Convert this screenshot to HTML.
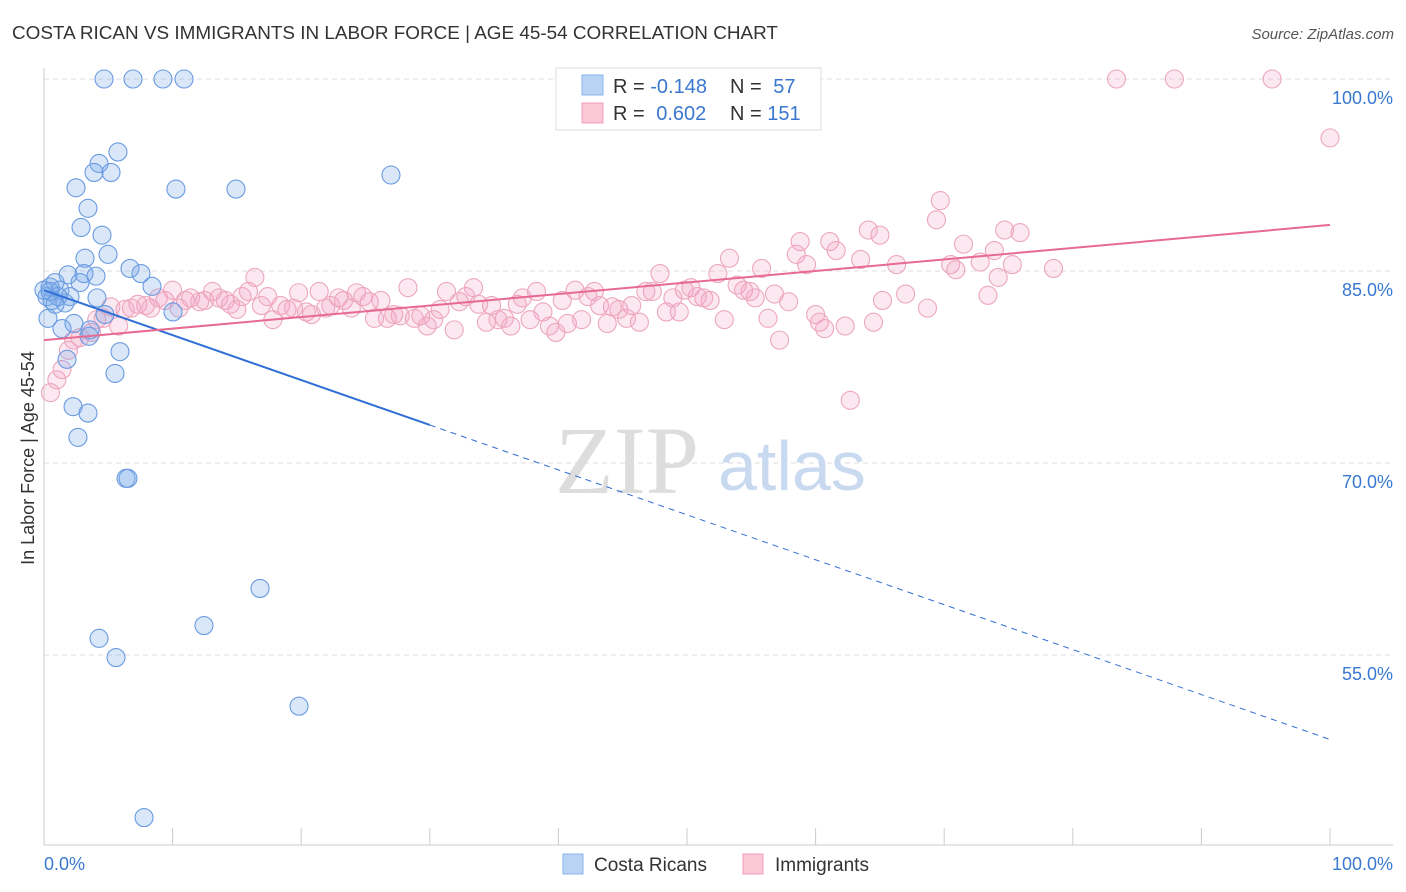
<!DOCTYPE html>
<html><head><meta charset="utf-8"><style>
body{margin:0;background:#fff;font-family:"Liberation Sans",sans-serif}
svg{display:block}
</style></head><body>
<svg width="1406" height="892" viewBox="0 0 1406 892">
<text x="12" y="39" font-size="18.9" fill="#333">COSTA RICAN VS IMMIGRANTS IN LABOR FORCE | AGE 45-54 CORRELATION CHART</text>
<text x="1394" y="39" font-size="15" fill="#555" font-style="italic" text-anchor="end">Source: ZipAtlas.com</text>
<g id="grid"></g>
<g id="axes"></g>
<text x="555" y="493" font-size="96" fill="#ddd" font-family="Liberation Serif,serif">ZIP</text>
<text x="718" y="490" font-size="70" fill="#c9daf0">atlas</text>
<g id="pink"></g>
<g id="blue"></g>
<g id="trends"></g>
<text x="34" y="458" font-size="18" fill="#333" text-anchor="middle" transform="rotate(-90 34 458)">In Labor Force | Age 45-54</text>
<g>
<rect x="556" y="68" width="265" height="62" fill="#fff" stroke="#ddd"/>
<rect x="582" y="75" width="21" height="20" fill="#b9d3f5" stroke="#8ab4ea"/>
<rect x="582" y="103" width="21" height="20" fill="#fbc6d6" stroke="#f0a0ba"/>
<text x="613" y="93" font-size="20" fill="#333">R = <tspan fill="#3a78d0">-0.148</tspan></text>
<text x="730" y="93" font-size="20" fill="#333">N = <tspan fill="#3a78d0" dx="6">57</tspan></text>
<text x="613" y="120" font-size="20" fill="#333">R = <tspan fill="#3a78d0" dx="6">0.602</tspan></text>
<text x="730" y="120" font-size="20" fill="#333">N = <tspan fill="#3a78d0">151</tspan></text>
</g>
<g>
<rect x="563" y="854" width="20" height="20" fill="#b9d3f5" stroke="#8ab4ea"/>
<text x="594" y="871" font-size="19" fill="#333">Costa Ricans</text>
<rect x="743" y="854" width="20" height="20" fill="#fbc6d6" stroke="#f0a0ba"/>
<text x="775" y="871" font-size="19" fill="#333">Immigrants</text>
</g>
</svg>
<script>
const yTicks=[100,85,70,55];
const yTickLabels=["100.0%","85.0%","70.0%","55.0%"];
const xEndLabels=["0.0%","100.0%"];
const blueX=[4.67,6.92,9.25,10.89,5.75,4.28,3.89,5.21,2.49,10.26,14.93,26.98,3.42,2.88,4.51,4.98,3.19,6.69,7.54,1.87,3.11,4.04,0.86,2.80,0.47,1.24,0.23,2.02,4.12,8.40,1.63,10.03,0.62,1.09,0.31,2.33,1.40,3.50,5.91,1.79,5.52,2.26,3.42,2.64,6.38,6.53,16.80,4.28,12.44,5.60,19.83,7.78,0,0.47,4.74,3.58,0.86];
const blueY=[100,100,100,100,94.3,93.4,92.7,92.7,91.5,91.4,91.4,92.5,89.9,88.4,87.8,86.3,86.0,85.2,84.8,84.7,84.8,84.6,84.1,84.1,83.75,83.5,83.0,83.0,82.9,83.8,82.5,81.8,82.7,83.0,81.3,80.9,80.5,79.9,78.7,78.1,77.0,74.4,73.9,72.0,68.8,68.8,60.2,56.3,57.3,54.8,51.0,42.3,83.5,83.4,81.6,80.4,82.4];
const pinkX=[0.5,1.0,1.4,1.9,2.3,2.8,3.7,4.1,4.6,5.2,5.8,6.3,6.8,7.3,7.9,8.3,8.9,9.4,10.0,10.5,11.0,11.4,12.1,12.5,13.1,13.6,14.1,14.5,15.0,15.4,15.9,16.4,16.9,17.4,17.8,18.4,18.9,19.4,19.8,20.4,20.8,21.4,21.9,22.3,22.9,23.3,23.9,24.3,24.8,25.3,25.7,26.2,26.7,27.2,27.7,28.3,28.8,29.3,29.8,30.3,30.8,31.3,31.9,32.3,32.8,33.4,33.8,34.4,34.8,35.3,35.8,36.3,36.8,37.2,37.8,38.3,38.8,39.3,39.8,40.3,40.7,41.3,41.8,42.3,42.8,43.2,43.8,44.2,44.7,45.3,45.7,46.3,46.8,47.3,47.9,48.4,48.9,49.4,49.8,50.3,50.8,51.3,51.8,52.4,52.9,53.3,53.9,54.4,54.9,55.3,55.8,56.3,56.8,57.2,57.9,58.5,58.8,59.3,60.0,60.3,60.7,61.1,61.6,62.3,62.7,63.5,64.1,64.5,65.0,65.2,66.3,67.0,68.7,69.4,69.7,70.5,70.9,71.5,72.8,73.4,73.9,74.2,74.7,75.3,75.9,78.5,83.4,87.9,95.5,100];
const pinkY=[75.5,76.5,77.3,78.8,79.6,79.8,80.2,81.2,81.3,82.2,80.7,82.0,82.1,82.4,82.3,82.1,82.9,82.7,83.5,82.1,82.7,82.9,82.6,82.7,83.4,82.9,82.7,82.4,82.0,83.0,83.4,84.5,82.3,83.0,81.2,82.3,82.0,82.1,83.3,81.8,81.6,83.4,82.1,82.3,82.9,82.7,82.1,83.3,83.0,82.6,81.3,82.7,81.3,81.6,81.5,83.7,81.3,81.5,80.7,81.2,82.0,83.4,80.4,82.6,83.0,83.7,82.4,81.0,82.3,81.2,81.3,80.7,82.4,82.9,81.2,83.4,81.8,80.7,80.2,82.7,80.9,83.5,81.2,83.0,83.4,82.3,80.9,82.2,82.0,81.3,82.3,81.0,83.4,83.4,84.8,81.8,82.9,81.8,83.5,83.7,83.0,82.9,82.7,84.8,81.2,86.0,83.9,83.5,83.4,82.9,85.2,81.3,83.2,79.6,82.6,86.3,87.3,85.5,81.6,81.0,80.5,87.3,86.6,80.7,74.9,85.9,88.2,81.0,87.8,82.7,85.5,83.2,82.1,89.0,90.5,85.5,85.1,87.1,85.7,83.1,86.6,84.5,88.2,85.5,88.0,85.2,100,100,100,95.4];
const blueTrend=[83.5,48.4];const blueSolidEnd=30;
const pinkTrend=[79.6,88.6];
const X=v=>44+v*12.86, Y=v=>79+(100-v)*12.8;
const NS="http://www.w3.org/2000/svg";
function mk(t,a,p){const e=document.createElementNS(NS,t);for(const k in a)e.setAttribute(k,a[k]);p.appendChild(e);return e;}
const grid=document.getElementById('grid'),axes=document.getElementById('axes');
yTicks.forEach((t,i)=>{
 const l=mk('line',{x1:44,x2:1393,y1:Y(t),y2:Y(t),stroke:'#ddd','stroke-dasharray':'5,4'},grid);
 
 
 const tx=mk('text',{x:1393,y:Y(t)+25,'font-size':18,fill:'#3a78d0','text-anchor':'end'},axes);tx.textContent=yTickLabels[i];
 
 
});
mk('line',{x1:44,x2:44,y1:68,y2:845,stroke:'#ccc'},axes);
mk('line',{x1:44,x2:1393,y1:845,y2:845,stroke:'#ccc'},axes);
for(let i=1;i<=10;i++){const t=mk('line',{x1:X(i*10),x2:X(i*10),y1:828,y2:845,stroke:'#ccc'},axes);
 
 }
[[0,'start',44],[1,'end',1393]].forEach(([i,a,x])=>{const t=mk('text',{x:x,y:870,'font-size':18,fill:'#3a78d0','text-anchor':a},axes);t.textContent=xEndLabels[i];
 
 });
const pg=document.getElementById('pink');
pinkX.forEach((x,i)=>{const c=mk('circle',{cx:X(x),cy:Y(pinkY[i]),r:9,fill:'rgba(245,165,195,0.25)',stroke:'#eda6be','stroke-width':1.1},pg);
 
 });
const bg=document.getElementById('blue');
blueX.forEach((x,i)=>{const c=mk('circle',{cx:X(x),cy:Y(blueY[i]),r:9,fill:'rgba(120,170,235,0.28)',stroke:'#6a9be0','stroke-width':1.1},bg);
 
 });
const tg=document.getElementById('trends');
const by=v=>blueTrend[0]+(blueTrend[1]-blueTrend[0])*v/100;
let l1=mk('line',{x1:X(0),y1:Y(by(0)),x2:X(blueSolidEnd),y2:Y(by(blueSolidEnd)),stroke:'#2f6fd6','stroke-width':2},tg);


let l2=mk('line',{x1:X(blueSolidEnd),y1:Y(by(blueSolidEnd)),x2:X(100),y2:Y(by(100)),stroke:'#2f6fd6','stroke-width':1,'stroke-dasharray':'6,5'},tg);


let l3=mk('line',{x1:X(0),y1:Y(pinkTrend[0]),x2:X(100),y2:Y(pinkTrend[1]),stroke:'#e66a92','stroke-width':2},tg);


</script>
</body></html>
